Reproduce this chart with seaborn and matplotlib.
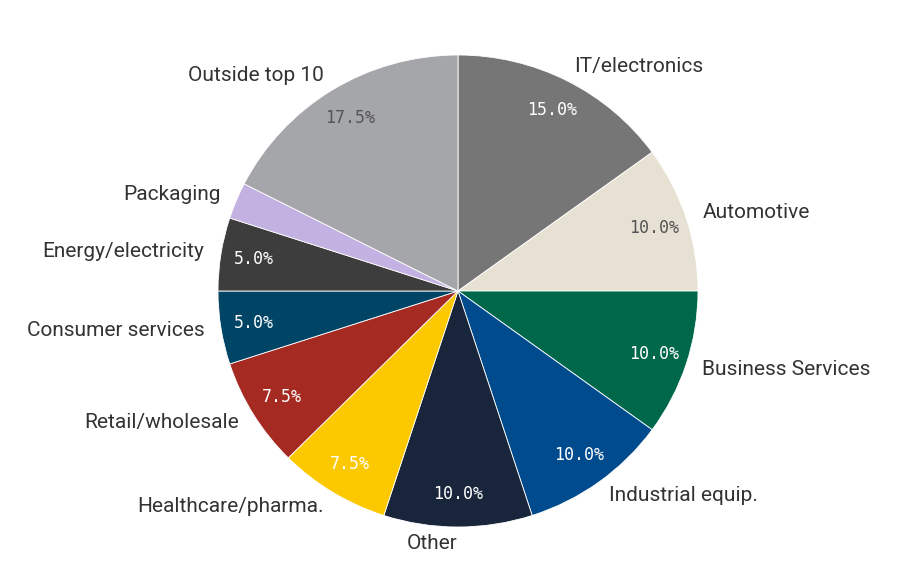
import matplotlib
matplotlib.use("Agg")
import matplotlib.pyplot as plt
import seaborn as sns

# data (clockwise from 12 o'clock)
sectors = ["IT/electronics", "Automotive", "Business Services", "Industrial equip.",
           "Other", "Healthcare/pharma.", "Retail/wholesale", "Consumer services",
           "Energy/electricity", "Packaging", "Outside top 10"]
shares = [15.0, 10.0, 10.0, 10.0, 10.0, 7.5, 7.5, 5.0, 5.0, 2.5, 17.5]
colors = ["#767676", "#e6e1d2", "#00684a", "#004b8d", "#18253a", "#fcc800",
          "#a52a22", "#004466", "#3d3d3d", "#c3b1e1", "#a5a6aa"]
light = ["Automotive", "Outside top 10"]

sns.set_theme(style="white")
plt.rcParams["font.family"] = ["Roboto", "DejaVu Sans"]

fig = plt.figure(figsize=(9.01, 5.82), dpi=100)
ax = fig.add_axes([0, 0, 1, 1])

def fmt(p):
    return f"{p:.1f}%" if p >= 3 else ""

wedges, texts, autotexts = ax.pie(
    shares, labels=sectors, colors=colors, startangle=90, counterclock=False,
    autopct=fmt, pctdistance=0.86, labeldistance=1.07,
    wedgeprops=dict(edgecolor="white", linewidth=0.6),
    textprops=dict(fontsize=15, color="#333333"))

for lab, t in zip(sectors, autotexts):
    t.set_family(["DejaVu Sans Mono"])
    t.set_fontsize(12)
    t.set_color("#555555" if lab in light else "white")

ax.set_aspect("auto")
ax.set_xlim(-458 / 240, (901 - 458) / 240)
ax.set_ylim(-291 / 236, 291 / 236)
ax.axis("off")

fig.savefig("out.png", dpi=100)
